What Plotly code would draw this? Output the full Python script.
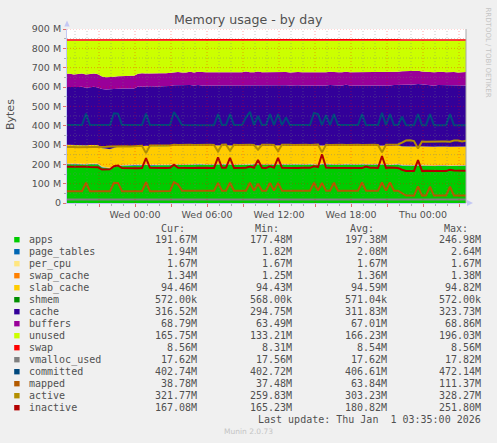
import pandas as pd
import plotly.graph_objects as go

# 20 minute samples, Tue 30 Dec 18:15 .. Thu 1 Jan 03:35 (values in MB)
times = pd.date_range('2025-12-30 18:15', periods=101, freq='20min')

apps = [201, 200, 199, 201, 200, 198, 200, 201, 199, 184,
        180, 178, 185, 191, 192, 193, 192, 191, 194, 195,
        196, 194, 193, 195, 194, 194, 195, 198, 197, 196,
        197, 198, 196, 197, 198, 197, 196, 197, 198, 199,
        197, 198, 196, 197, 198, 199, 198, 197, 198, 197,
        196, 198, 197, 198, 197, 196, 197, 198, 197, 196,
        197, 198, 197, 196, 199, 197, 198, 197, 196, 197,
        198, 197, 196, 197, 198, 197, 196, 197, 198, 199,
        197, 196, 197, 198, 193, 192, 191, 192, 193, 192,
        191, 192, 191, 192, 193, 192, 191, 192, 191, 192,
        191.67]
page_tables = [2.1, 2.1, 2.0, 2.1, 2.2, 2.3, 2.1, 2.0, 2.1, 2.0,
               1.9, 1.9, 2.2, 2.3, 2.1, 2.0, 2.0, 2.1, 2.0, 2.1,
               2.4, 2.1, 2.0, 2.0, 2.1, 2.0, 2.1, 2.5, 2.2, 2.1,
               2.0, 2.1, 2.0, 2.1, 2.0, 2.1, 2.0, 2.1, 2.4, 2.1,
               2.0, 2.3, 2.1, 2.0, 2.1, 2.2, 2.6, 2.1, 2.3, 2.0,
               2.1, 2.3, 2.2, 2.3, 2.1, 2.2, 2.0, 2.1, 2.0, 2.1,
               2.0, 2.1, 2.3, 2.1, 2.4, 2.2, 2.0, 2.2, 2.0, 2.1,
               2.0, 2.1, 2.0, 2.1, 2.3, 2.0, 2.1, 2.0, 2.1, 2.4,
               2.1, 2.2, 2.0, 2.1, 1.9, 1.9, 1.9, 2.0, 2.2, 1.9,
               1.9, 2.1, 1.9, 1.9, 2.0, 1.9, 2.1, 1.9, 1.9, 1.9,
               1.94]
per_cpu = [1.67, 1.67, 1.67, 1.67, 1.67, 1.67, 1.67, 1.67, 1.67, 1.67,
           1.67, 1.67, 1.67, 1.67, 1.67, 1.67, 1.67, 1.67, 1.67, 1.67,
           1.67, 1.67, 1.67, 1.67, 1.67, 1.67, 1.67, 1.67, 1.67, 1.67,
           1.67, 1.67, 1.67, 1.67, 1.67, 1.67, 1.67, 1.67, 1.67, 1.67,
           1.67, 1.67, 1.67, 1.67, 1.67, 1.67, 1.67, 1.67, 1.67, 1.67,
           1.67, 1.67, 1.67, 1.67, 1.67, 1.67, 1.67, 1.67, 1.67, 1.67,
           1.67, 1.67, 1.67, 1.67, 1.67, 1.67, 1.67, 1.67, 1.67, 1.67,
           1.67, 1.67, 1.67, 1.67, 1.67, 1.67, 1.67, 1.67, 1.67, 1.67,
           1.67, 1.67, 1.67, 1.67, 1.67, 1.67, 1.67, 1.67, 1.67, 1.67,
           1.67, 1.67, 1.67, 1.67, 1.67, 1.67, 1.67, 1.67, 1.67, 1.67,
           1.67]
swap_cache = [1.37, 1.36, 1.36, 1.37, 1.36, 1.35, 1.36, 1.36, 1.37, 1.36,
              1.30, 1.25, 1.28, 1.33, 1.36, 1.37, 1.36, 1.36, 1.37, 1.36,
              1.36, 1.37, 1.36, 1.36, 1.37, 1.36, 1.35, 1.36, 1.37, 1.36,
              1.36, 1.37, 1.36, 1.38, 1.36, 1.37, 1.36, 1.36, 1.37, 1.36,
              1.37, 1.36, 1.36, 1.37, 1.38, 1.36, 1.37, 1.36, 1.36, 1.37,
              1.36, 1.37, 1.36, 1.36, 1.37, 1.36, 1.38, 1.37, 1.36, 1.36,
              1.37, 1.36, 1.36, 1.37, 1.36, 1.37, 1.36, 1.38, 1.36, 1.37,
              1.36, 1.36, 1.37, 1.36, 1.37, 1.36, 1.36, 1.37, 1.36, 1.37,
              1.36, 1.37, 1.36, 1.36, 1.35, 1.35, 1.34, 1.35, 1.34, 1.35,
              1.34, 1.35, 1.34, 1.34, 1.35, 1.34, 1.34, 1.35, 1.34, 1.34,
              1.34]
slab_cache = [94.6, 94.7, 94.5, 94.6, 94.8, 94.6, 94.5, 94.6, 94.7, 94.6,
              94.5, 94.6, 94.7, 94.6, 94.5, 94.6, 94.8, 94.6, 94.5, 94.6,
              94.7, 94.6, 94.5, 94.6, 94.6, 94.7, 94.5, 94.6, 94.6, 94.7,
              94.6, 94.5, 94.6, 94.7, 94.6, 94.5, 94.6, 94.8, 94.6, 94.5,
              94.6, 94.7, 94.6, 94.5, 94.6, 94.6, 94.7, 94.5, 94.6, 94.6,
              94.7, 94.6, 94.5, 94.6, 94.7, 94.6, 94.5, 94.6, 94.6, 94.7,
              94.6, 94.5, 94.6, 94.7, 94.6, 94.5, 94.6, 94.6, 94.7, 94.5,
              94.6, 94.6, 94.5, 94.6, 94.7, 94.6, 94.5, 94.6, 94.6, 94.5,
              94.6, 94.5, 94.6, 94.5, 94.5, 94.5, 94.4, 94.5, 94.5, 94.4,
              94.5, 94.5, 94.4, 94.5, 94.5, 94.4, 94.5, 94.5, 94.4, 94.5,
              94.46]
shmem = [0.570, 0.572, 0.570, 0.571, 0.572, 0.570, 0.571, 0.572, 0.570, 0.571,
         0.568, 0.568, 0.570, 0.571, 0.572, 0.570, 0.571, 0.572, 0.570, 0.571,
         0.572, 0.570, 0.571, 0.572, 0.570, 0.571, 0.572, 0.570, 0.571, 0.572,
         0.570, 0.571, 0.572, 0.570, 0.571, 0.572, 0.570, 0.571, 0.572, 0.570,
         0.571, 0.572, 0.570, 0.571, 0.572, 0.570, 0.571, 0.572, 0.570, 0.571,
         0.572, 0.570, 0.571, 0.572, 0.570, 0.571, 0.572, 0.570, 0.571, 0.572,
         0.570, 0.571, 0.572, 0.570, 0.571, 0.572, 0.570, 0.571, 0.572, 0.570,
         0.571, 0.572, 0.570, 0.571, 0.572, 0.570, 0.571, 0.572, 0.570, 0.571,
         0.572, 0.570, 0.571, 0.572, 0.572, 0.572, 0.571, 0.572, 0.572, 0.572,
         0.571, 0.572, 0.572, 0.572, 0.571, 0.572, 0.572, 0.572, 0.572, 0.572,
         0.572]
cache = [299, 300, 298, 299, 301, 298, 299, 300, 298, 305,
         307, 309, 304, 300, 298, 299, 300, 301, 308, 309,
         306, 310, 309, 308, 310, 309, 310, 310, 312, 311,
         310, 312, 311, 313, 310, 311, 312, 311, 309, 310,
         312, 310, 313, 311, 310, 312, 309, 311, 313, 311,
         312, 310, 311, 312, 311, 313, 310, 311, 312, 311,
         310, 312, 311, 313, 309, 311, 312, 310, 312, 311,
         313, 311, 312, 310, 311, 312, 313, 311, 310, 309,
         311, 312, 313, 312, 320, 322, 323, 321, 322, 320,
         321, 317, 316, 318, 317, 316, 318, 317, 316, 317,
         316.5]
buffers = [68.2, 68.5, 68.0, 68.4, 68.6, 68.1, 68.3, 68.5, 68.0, 64.5,
           63.6, 63.5, 64.0, 64.2, 64.5, 65.0, 65.5, 66.0, 66.5, 67.0,
           67.2, 66.8, 67.1, 67.3, 67.0, 67.4, 67.2, 67.5, 67.8, 68.0,
           67.6, 68.1, 67.9, 68.2, 67.7, 68.0, 68.3, 67.8, 68.1, 68.4,
           67.9, 68.2, 68.5, 67.8, 68.1, 68.3, 68.0, 68.4, 68.2, 67.9,
           68.3, 68.1, 68.5, 67.8, 68.2, 68.4, 68.0, 68.3, 68.1, 68.5,
           68.2, 67.9, 68.4, 68.1, 68.3, 68.0, 68.5, 68.2, 67.9, 68.4,
           68.1, 68.3, 68.6, 68.0, 68.4, 68.2, 68.5, 68.1, 68.3, 68.6,
           68.4, 68.7, 68.5, 68.6, 68.8, 68.7, 68.8, 68.6, 68.8, 68.7,
           68.8, 68.7, 68.8, 68.6, 68.8, 68.7, 68.8, 68.8, 68.7, 68.8,
           68.79]
unused = [170.8, 170.5, 174.0, 170.6, 169.4, 174.9, 171.7, 169.5, 174.0, 185.5,
          188.4, 188.5, 186.0, 183.8, 184.5, 182.0, 181.5, 181.0, 170.5, 168.0,
          169.8, 168.2, 169.9, 168.7, 168.0, 168.6, 166.8, 163.5, 162.2, 164.0,
          164.4, 160.9, 164.1, 160.8, 163.3, 163.0, 162.7, 163.2, 163.9, 161.6,
          162.1, 162.8, 161.5, 163.2, 162.9, 159.7, 164.0, 162.6, 159.8, 163.1,
          162.7, 162.9, 162.5, 161.2, 162.8, 161.6, 164.0, 161.7, 161.9, 163.5,
          163.8, 161.1, 162.6, 161.9, 162.7, 163.0, 160.5, 163.8, 163.1, 162.6,
          159.9, 162.7, 162.4, 164.0, 161.6, 161.8, 161.5, 162.9, 162.7, 162.4,
          162.6, 162.3, 160.5, 160.4, 157.2, 156.3, 156.2, 157.4, 155.2, 158.3,
          158.2, 161.3, 163.2, 160.4, 160.2, 162.3, 161.2, 161.2, 163.3, 161.2,
          161.7]
swap = [8.31, 8.32, 8.33, 8.33, 8.34, 8.35, 8.36, 8.37, 8.38, 8.40,
        8.41, 8.42, 8.44, 8.45, 8.46, 8.47, 8.48, 8.50, 8.51, 8.52,
        8.53, 8.53, 8.54, 8.54, 8.54, 8.55, 8.55, 8.55, 8.55, 8.55,
        8.55, 8.55, 8.55, 8.56, 8.56, 8.56, 8.56, 8.56, 8.56, 8.56,
        8.56, 8.56, 8.56, 8.56, 8.56, 8.56, 8.56, 8.56, 8.56, 8.56,
        8.56, 8.56, 8.56, 8.56, 8.56, 8.56, 8.56, 8.56, 8.56, 8.56,
        8.56, 8.56, 8.56, 8.56, 8.56, 8.56, 8.56, 8.56, 8.56, 8.56,
        8.56, 8.56, 8.56, 8.56, 8.56, 8.56, 8.56, 8.56, 8.56, 8.56,
        8.56, 8.56, 8.56, 8.56, 8.56, 8.56, 8.56, 8.56, 8.56, 8.56,
        8.56, 8.56, 8.56, 8.56, 8.56, 8.56, 8.56, 8.56, 8.56, 8.56,
        8.56]

vmalloc_used = [17.6, 17.6, 17.7, 17.6, 17.6, 17.6, 17.6, 17.7, 17.6, 17.6,
                17.6, 17.6, 17.7, 17.8, 17.6, 17.6, 17.6, 17.6, 17.6, 17.7,
                17.6, 17.6, 17.6, 17.6, 17.7, 17.6, 17.6, 17.6, 17.6, 17.6,
                17.6, 17.7, 17.6, 17.6, 17.6, 17.6, 17.6, 17.6, 17.7, 17.6,
                17.6, 17.6, 17.6, 17.6, 17.6, 17.7, 17.6, 17.6, 17.6, 17.6,
                17.6, 17.6, 17.7, 17.6, 17.6, 17.6, 17.6, 17.6, 17.6, 17.6,
                17.7, 17.6, 17.6, 17.6, 17.6, 17.6, 17.6, 17.7, 17.6, 17.6,
                17.6, 17.6, 17.6, 17.6, 17.6, 17.6, 17.7, 17.6, 17.6, 17.6,
                17.6, 17.6, 17.6, 17.6, 17.6, 17.6, 17.6, 17.6, 17.7, 17.6,
                17.6, 17.6, 17.6, 17.6, 17.6, 17.6, 17.6, 17.6, 17.6, 17.6,
                17.62]
committed = [403.0, 402.9, 403.1, 402.8, 403.0, 462, 403, 402.9, 403, 402.8,
             403, 402.9, 464, 462, 403, 402.8, 403, 402.9, 403, 403.1,
             462, 402.9, 403, 402.8, 403, 402.9, 403, 470, 440, 403,
             402.9, 403, 402.8, 403, 403.1, 402.9, 403, 402.8, 460, 403,
             402.9, 460, 403, 402.8, 403, 443, 472, 403, 450, 403,
             402.9, 460, 403, 460, 403, 443, 402.9, 403, 402.8, 403,
             402.9, 403, 466, 460, 403, 455, 403, 460, 402.9, 403,
             402.8, 403, 402.9, 403, 460, 402.8, 403, 402.9, 403, 466,
             403, 460, 402.9, 403, 446, 402.8, 402.7, 402.8, 460, 402.7,
             402.8, 460, 402.7, 402.8, 402.7, 402.8, 460, 402.7, 402.8, 402.7,
             402.74]
mapped = [61, 61, 60.5, 61, 61, 105, 61, 60.5, 61, 61,
          60.5, 61, 104, 103, 61, 61, 60.5, 61, 61, 61,
          108, 61, 61, 61.5, 61, 61, 61.5, 108, 96, 64,
          64, 63.5, 64, 64, 64, 64.5, 64, 64, 104, 64,
          64, 105, 64, 64, 63.5, 64, 105, 64, 100, 64,
          64, 104, 64, 104, 64, 64, 63.5, 64, 64, 64,
          64.5, 64, 105, 64, 104, 64, 64, 105, 64, 63.5,
          64, 64, 64, 64, 106, 64, 64, 64.5, 64, 106,
          64, 106, 64, 64, 50, 38.5, 38.5, 38, 86, 38.5,
          38.5, 84, 38.5, 38, 38.5, 38.5, 84, 38.5, 38.5, 38.8,
          38.78]
active = [290, 291, 290, 289, 290, 290, 291, 290, 290, 292,
          291, 292, 293, 292, 292, 293, 292, 293, 297, 296,
          258, 297, 298, 297, 296, 297, 298, 301, 300, 301,
          302, 301, 300, 301, 301, 302, 301, 300, 266, 301,
          302, 270, 301, 300, 301, 302, 301, 300, 276, 301,
          302, 301, 300, 268, 301, 302, 301, 300, 301, 302,
          301, 300, 301, 302, 262, 301, 300, 301, 302, 301,
          300, 301, 302, 301, 300, 301, 302, 301, 300, 262,
          301, 302, 301, 303, 312, 323, 324, 320, 282, 318,
          317, 318, 318, 317, 318, 318, 317, 323, 323, 318,
          321.77]
inactive = [188, 189, 188, 187, 188, 187, 186, 186, 185, 173,
            172, 174, 190, 194, 181, 180, 180, 181, 180, 181,
            232, 182, 181, 180, 181, 181, 182, 198, 182, 181,
            182, 182, 181, 182, 181, 182, 182, 181, 236, 182,
            182, 233, 181, 182, 183, 182, 188, 182, 222, 182,
            181, 190, 182, 233, 182, 181, 182, 182, 181, 182,
            181, 182, 190, 186, 252, 183, 182, 182, 181, 182,
            182, 181, 182, 182, 181, 188, 182, 182, 181, 243,
            182, 184, 182, 181, 172, 166, 165.5, 166, 222, 166,
            167, 166, 165.5, 166, 166, 166, 172, 168, 168, 167,
            167.08]

stack_names = ['apps', 'page_tables', 'per_cpu', 'swap_cache', 'slab_cache',
               'shmem', 'cache', 'buffers', 'unused', 'swap']
stack_values = [apps, page_tables, per_cpu, swap_cache, slab_cache,
                shmem, cache, buffers, unused, swap]
line_names = ['vmalloc_used', 'committed', 'mapped', 'active', 'inactive']
line_values = [vmalloc_used, committed, mapped, active, inactive]

colors = {'apps': '#00CC00', 'page_tables': '#0066B3', 'per_cpu': '#FFE680',
          'swap_cache': '#FF8000', 'slab_cache': '#FFCC00', 'shmem': '#008F00',
          'cache': '#330099', 'buffers': '#990099', 'unused': '#CCFF00',
          'swap': '#FF0000', 'vmalloc_used': '#808080', 'committed': '#00487D',
          'mapped': '#B35A00', 'active': '#B38F00', 'inactive': '#B30000'}

# legend table text
legend_names = stack_names + line_names
cur_txt = ['191.67M', '1.94M', '1.67M', '1.34M', '94.46M', '572.00k', '316.52M',
           '68.79M', '165.75M', '8.56M', '17.62M', '402.74M', '38.78M', '321.77M', '167.08M']
min_txt = ['177.48M', '1.82M', '1.67M', '1.25M', '94.43M', '568.00k', '294.75M',
           '63.49M', '133.21M', '8.31M', '17.56M', '402.72M', '37.48M', '259.83M', '165.23M']
avg_txt = ['197.38M', '2.08M', '1.67M', '1.36M', '94.59M', '571.04k', '311.83M',
           '67.01M', '166.23M', '8.54M', '17.62M', '406.61M', '63.84M', '303.23M', '180.82M']
max_txt = ['246.98M', '2.64M', '1.67M', '1.38M', '94.82M', '572.00k', '323.73M',
           '68.86M', '196.03M', '8.56M', '17.82M', '472.14M', '111.37M', '328.27M', '251.80M']

for series in stack_values + line_values:
    assert len(series) == len(times)

# pixel geometry of the graph canvas
W, H = 497, 443
L, R, T, B = 67, 466, 29, 203


def px(x):
    return (x - L) / (R - L)


def py(y):
    return (B - y) / (B - T)


fig = go.Figure()

for name, vals in zip(stack_names, stack_values):
    fig.add_trace(go.Scatter(x=times, y=vals, name=name, mode='lines',
                             stackgroup='mem', line=dict(width=0, color=colors[name]),
                             fillcolor=colors[name], hoverinfo='skip'))

for name, vals in zip(line_names, line_values):
    fig.add_trace(go.Scatter(x=times, y=vals, name=name, mode='lines',
                             line=dict(width=2, color=colors[name]), hoverinfo='skip'))

shapes = []
# dotted grid drawn on top of the areas, like rrdtool does
for t in pd.date_range('2025-12-30 19:00', '2026-01-01 03:00', freq='h'):
    major = t.hour % 3 == 0
    shapes.append(dict(type='line', xref='x', yref='paper', x0=t, x1=t, y0=0, y1=1,
                       layer='above',
                       line=dict(width=1, dash='1px,2px',
                                 color='rgba(255,0,0,0.35)' if major else 'rgba(120,120,120,0.4)')))
for v in range(50, 901, 50):
    major = v % 100 == 0
    shapes.append(dict(type='line', xref='paper', yref='y', x0=0, x1=1, y0=v, y1=v,
                       layer='above',
                       line=dict(width=1, dash='1px,2px',
                                 color='rgba(255,0,0,0.35)' if major else 'rgba(120,120,120,0.4)')))

# right border and axis arrows
shapes.append(dict(type='line', xref='paper', yref='paper', x0=1, x1=1, y0=0, y1=1,
                   line=dict(width=1, color='#A8A8A8'), layer='above'))
axis_col = '#C4C8F4'
shapes.append(dict(type='path', xref='paper', yref='paper', layer='above',
                   path=f'M {px(64.3)},{py(26.5)} L {px(67)},{py(20.5)} L {px(69.7)},{py(26.5)} Z',
                   fillcolor=axis_col, line=dict(width=0)))
shapes.append(dict(type='path', xref='paper', yref='paper', layer='above',
                   path=f'M {px(467)},{py(200)} L {px(473)},{py(203)} L {px(467)},{py(206)} Z',
                   fillcolor=axis_col, line=dict(width=0)))

# legend colour squares
row_y = [239.7 + 12 * k for k in range(len(legend_names))]
for name, y in zip(legend_names, row_y):
    shapes.append(dict(type='rect', xref='paper', yref='paper',
                       x0=px(14.2), x1=px(19.6), y0=py(y + 2.7), y1=py(y - 2.7),
                       fillcolor=colors[name], line=dict(width=0)))

mono = dict(family='DejaVu Sans Mono', size=10, color='#505050')
annotations = [
    dict(text='Memory usage - by day', x=px(248.5), y=py(19.5), xref='paper', yref='paper',
         showarrow=False, xanchor='center', yanchor='middle',
         font=dict(family='DejaVu Sans', size=12.6, color='#505050')),
    dict(text='Bytes', x=px(11), y=py(115), xref='paper', yref='paper', textangle=-90,
         showarrow=False, xanchor='center', yanchor='middle',
         font=dict(family='DejaVu Sans', size=11, color='#505050')),
    dict(text='RRDTOOL / TOBI OETIKER', x=px(487.5), y=py(53), xref='paper', yref='paper',
         textangle=90, showarrow=False, xanchor='center', yanchor='middle',
         font=dict(family='DejaVu Sans', size=7, color='#C4C4C4')),
    dict(text='Last update: Thu Jan \u00a01 03:35:00 2026', x=px(483), y=py(419.7),
         xref='paper', yref='paper', showarrow=False, xanchor='right', yanchor='middle',
         font=mono),
    dict(text='Munin 2.0.73', x=px(248), y=py(431.7), xref='paper', yref='paper',
         showarrow=False, xanchor='center', yanchor='middle',
         font=dict(family='DejaVu Sans', size=7.5, color='#C4C4C4')),
]
for head, xr in zip(['Cur:', 'Min:', 'Avg:', 'Max:'], [187, 281, 376, 470]):
    annotations.append(dict(text=head, x=px(xr), y=py(228.3), xref='paper', yref='paper',
                            showarrow=False, xanchor='right', yanchor='middle', font=mono))
for k, name in enumerate(legend_names):
    y = py(row_y[k])
    annotations.append(dict(text=name, x=px(26.5), y=y, xref='paper', yref='paper',
                            showarrow=False, xanchor='left', yanchor='middle', font=mono))
    for col, xr in zip([cur_txt, min_txt, avg_txt, max_txt], [199, 294, 388.5, 483]):
        annotations.append(dict(text=col[k], x=px(xr), y=y, xref='paper', yref='paper',
                                showarrow=False, xanchor='right', yanchor='middle', font=mono))

tick_times = pd.date_range('2025-12-30 21:00', '2026-01-01 03:00', freq='3h')
tick_text = [t.strftime('%a %H:%M') if t.hour % 6 == 0 else '' for t in tick_times]
tick_font = dict(family='DejaVu Sans', size=9.5, color='#505050')

fig.update_layout(
    width=W, height=H,
    paper_bgcolor='#F0F0F0', plot_bgcolor='#FFFFFF',
    margin=dict(l=L, r=W - R, t=T, b=H - B, autoexpand=False),
    showlegend=False,
    shapes=shapes,
    annotations=annotations,
    xaxis=dict(type='date', range=['2025-12-30 18:20', '2026-01-01 03:35'],
               tickmode='array', tickvals=tick_times, ticktext=tick_text,
               ticks='outside', ticklen=3, tickcolor='#E07070', tickfont=tick_font,
               showgrid=False, zeroline=False, showline=True, linecolor=axis_col,
               minor=dict(tick0='2025-12-30 19:00', dtick=3600000, ticks='outside',
                          ticklen=2, tickcolor='#B0B0B0', showgrid=False),
               fixedrange=True),
    yaxis=dict(range=[0, 900], tickmode='array', tickvals=list(range(0, 901, 100)),
               ticktext=['0'] + [f'{v} M' for v in range(100, 901, 100)],
               ticks='outside', ticklen=3, tickcolor='#E07070', tickfont=tick_font,
               showgrid=False, zeroline=False, showline=True, linecolor=axis_col,
               minor=dict(dtick=50, ticks='outside', ticklen=2, tickcolor='#B0B0B0',
                          showgrid=False),
               fixedrange=True),
)

# drop the browser's default page margin so the canvas sits at 0,0
fig.write_html('out.html', config={'staticPlot': True},
               post_script="document.body.style.margin='0';document.body.style.background='#F0F0F0';")
